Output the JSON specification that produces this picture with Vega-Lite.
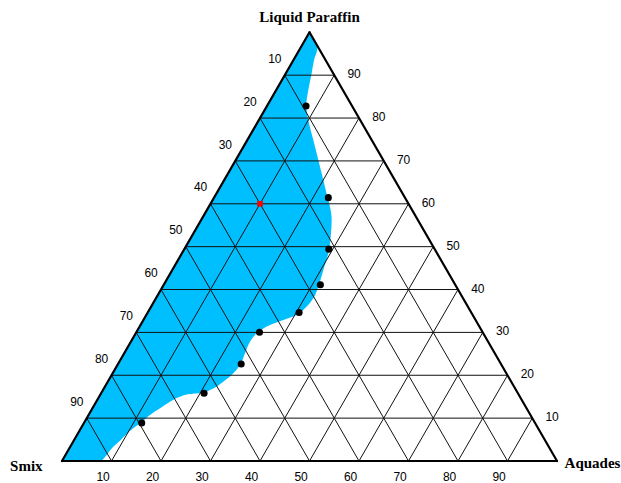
{
  "$schema": "https://vega.github.io/schema/vega-lite/v6.json",
  "width": 621,
  "height": 483,
  "autosize": {"type": "none"},
  "padding": 0,
  "background": "white",
  "config": {"view": {"stroke": null}},
  "datasets": {
    "region": [
      {"y": 0, "xl": 0, "xr": 8.0},
      {"y": 1.21, "xl": 0.699, "xr": 9.03},
      {"y": 2.83, "xl": 1.634, "xr": 10.3},
      {"y": 4.1, "xl": 2.367, "xr": 11.72},
      {"y": 5.45, "xl": 3.147, "xr": 13.07},
      {"y": 6.61, "xl": 3.816, "xr": 14.4},
      {"y": 7.62, "xl": 4.399, "xr": 15.76},
      {"y": 9.29, "xl": 5.364, "xr": 17.78},
      {"y": 10.65, "xl": 6.149, "xr": 19.8},
      {"y": 11.98, "xl": 6.917, "xr": 21.82},
      {"y": 12.99, "xl": 7.5, "xr": 23.84},
      {"y": 13.54, "xl": 7.817, "xr": 25.86},
      {"y": 13.8, "xl": 7.967, "xr": 28.55},
      {"y": 14.34, "xl": 8.279, "xr": 29.9},
      {"y": 16.02, "xl": 9.249, "xr": 32.59},
      {"y": 17.72, "xl": 10.231, "xr": 34.61},
      {"y": 19.39, "xl": 11.195, "xr": 35.96},
      {"y": 21.76, "xl": 12.563, "xr": 36.97},
      {"y": 24.1, "xl": 13.914, "xr": 37.98},
      {"y": 25.8, "xl": 14.896, "xr": 39.33},
      {"y": 27.47, "xl": 15.86, "xr": 42.02},
      {"y": 28.48, "xl": 16.443, "xr": 44.71},
      {"y": 29.49, "xl": 17.026, "xr": 47.41},
      {"y": 30.85, "xl": 17.811, "xr": 49.09},
      {"y": 32.87, "xl": 18.978, "xr": 50.77},
      {"y": 35.21, "xl": 20.328, "xr": 51.78},
      {"y": 38.59, "xl": 22.28, "xr": 52.79},
      {"y": 41.96, "xl": 24.226, "xr": 53.8},
      {"y": 45.31, "xl": 26.16, "xr": 54.28},
      {"y": 48.69, "xl": 28.111, "xr": 54.48},
      {"y": 51.37, "xl": 29.659, "xr": 54.14},
      {"y": 53.39, "xl": 30.825, "xr": 53.6},
      {"y": 56.77, "xl": 32.776, "xr": 52.79},
      {"y": 60.81, "xl": 35.109, "xr": 51.78},
      {"y": 64.85, "xl": 37.441, "xr": 50.77},
      {"y": 68.89, "xl": 39.774, "xr": 49.76},
      {"y": 71.92, "xl": 41.523, "xr": 49.35},
      {"y": 74.95, "xl": 43.273, "xr": 49.76},
      {"y": 78.32, "xl": 45.218, "xr": 50.44},
      {"y": 80.99, "xl": 46.76, "xr": 50.91},
      {"y": 83.37, "xl": 48.134, "xr": 51.58},
      {"y": 86.6, "xl": 50.0, "xr": 50.0}
    ],
    "grid": [
      {"x": 5, "y": 8.66, "x2": 95, "y2": 8.66},
      {"x": 10, "y": 17.321, "x2": 90, "y2": 17.321},
      {"x": 15, "y": 25.981, "x2": 85, "y2": 25.981},
      {"x": 20, "y": 34.641, "x2": 80, "y2": 34.641},
      {"x": 25, "y": 43.301, "x2": 75, "y2": 43.301},
      {"x": 30, "y": 51.962, "x2": 70, "y2": 51.962},
      {"x": 35, "y": 60.622, "x2": 65, "y2": 60.622},
      {"x": 40, "y": 69.282, "x2": 60, "y2": 69.282},
      {"x": 45, "y": 77.942, "x2": 55, "y2": 77.942},
      {"x": 10, "y": 0, "x2": 55, "y2": 77.942},
      {"x": 20, "y": 0, "x2": 60, "y2": 69.282},
      {"x": 30, "y": 0, "x2": 65, "y2": 60.622},
      {"x": 40, "y": 0, "x2": 70, "y2": 51.962},
      {"x": 50, "y": 0, "x2": 75, "y2": 43.301},
      {"x": 60, "y": 0, "x2": 80, "y2": 34.641},
      {"x": 70, "y": 0, "x2": 85, "y2": 25.981},
      {"x": 80, "y": 0, "x2": 90, "y2": 17.321},
      {"x": 90, "y": 0, "x2": 95, "y2": 8.66},
      {"x": 90, "y": 0, "x2": 45, "y2": 77.942},
      {"x": 80, "y": 0, "x2": 40, "y2": 69.282},
      {"x": 70, "y": 0, "x2": 35, "y2": 60.622},
      {"x": 60, "y": 0, "x2": 30, "y2": 51.962},
      {"x": 50, "y": 0, "x2": 25, "y2": 43.301},
      {"x": 40, "y": 0, "x2": 20, "y2": 34.641},
      {"x": 30, "y": 0, "x2": 15, "y2": 25.981},
      {"x": 20, "y": 0, "x2": 10, "y2": 17.321},
      {"x": 10, "y": 0, "x2": 5, "y2": 8.66}
    ],
    "edges": [
      {"x": 0, "y": 0, "x2": 100, "y2": 0},
      {"x": 0, "y": 0, "x2": 50, "y2": 86.603},
      {"x": 100, "y": 0, "x2": 50, "y2": 86.603}
    ],
    "dots": [
      {"x": 49.3, "y": 71.7},
      {"x": 53.8, "y": 53.2},
      {"x": 53.9, "y": 42.8},
      {"x": 52.2, "y": 35.6},
      {"x": 47.9, "y": 30.0},
      {"x": 39.9, "y": 26.0},
      {"x": 36.2, "y": 19.6},
      {"x": 28.7, "y": 13.7},
      {"x": 16.1, "y": 7.7}
    ],
    "red": [
      {"x": 40.0, "y": 51.96}
    ],
    "labels": [
      {"x": 43.0, "y": 81.24, "t": "10"},
      {"x": 38.0, "y": 72.58, "t": "20"},
      {"x": 33.0, "y": 63.92, "t": "30"},
      {"x": 28.0, "y": 55.26, "t": "40"},
      {"x": 23.0, "y": 46.6, "t": "50"},
      {"x": 18.0, "y": 37.94, "t": "60"},
      {"x": 13.0, "y": 29.28, "t": "70"},
      {"x": 8.0, "y": 20.62, "t": "80"},
      {"x": 3.0, "y": 11.96, "t": "90"},
      {"x": 8.3, "y": -3.25, "t": "10"},
      {"x": 18.3, "y": -3.25, "t": "20"},
      {"x": 28.3, "y": -3.25, "t": "30"},
      {"x": 38.3, "y": -3.25, "t": "40"},
      {"x": 48.3, "y": -3.25, "t": "50"},
      {"x": 58.3, "y": -3.25, "t": "60"},
      {"x": 68.3, "y": -3.25, "t": "70"},
      {"x": 78.3, "y": -3.25, "t": "80"},
      {"x": 88.3, "y": -3.25, "t": "90"},
      {"x": 59.0, "y": 78.14, "t": "90"},
      {"x": 64.0, "y": 69.48, "t": "80"},
      {"x": 69.0, "y": 60.82, "t": "70"},
      {"x": 74.0, "y": 52.16, "t": "60"},
      {"x": 79.0, "y": 43.5, "t": "50"},
      {"x": 84.0, "y": 34.84, "t": "40"},
      {"x": 89.0, "y": 26.18, "t": "30"},
      {"x": 94.0, "y": 17.52, "t": "20"},
      {"x": 99.0, "y": 8.86, "t": "10"}
    ],
    "titles": [
      {"x": 50.0, "y": 89.76, "t": "Liquid Paraffin"},
      {"x": -7.21, "y": -1.01, "t": "Smix"},
      {"x": 107.17, "y": -0.46, "t": "Aquades"}
    ]
  },
  "layer": [
    {
      "data": {"name": "region"},
      "mark": {"type": "area", "orient": "horizontal", "interpolate": "monotone", "color": "#00BFFF", "opacity": 1},
      "encoding": {
        "y": {"field": "y", "type": "quantitative", "scale": {"domain": [-4.444, 93.131], "nice": false, "zero": false}, "axis": null},
        "x": {"field": "xl", "type": "quantitative", "scale": {"domain": [-12.525, 112.929], "nice": false, "zero": false}, "axis": null},
        "x2": {"field": "xr"}
      }
    },
    {
      "data": {"name": "grid"},
      "mark": {"type": "rule", "color": "#111111", "strokeWidth": 1},
      "encoding": {
        "x": {"field": "x", "type": "quantitative"},
        "y": {"field": "y", "type": "quantitative"},
        "x2": {"field": "x2"},
        "y2": {"field": "y2"}
      }
    },
    {
      "data": {"name": "edges"},
      "mark": {"type": "rule", "color": "#000000", "strokeWidth": 2.2, "strokeCap": "round"},
      "encoding": {
        "x": {"field": "x", "type": "quantitative"},
        "y": {"field": "y", "type": "quantitative"},
        "x2": {"field": "x2"},
        "y2": {"field": "y2"}
      }
    },
    {
      "data": {"name": "dots"},
      "mark": {"type": "point", "filled": true, "color": "#000000", "size": 50, "opacity": 1},
      "encoding": {
        "x": {"field": "x", "type": "quantitative"},
        "y": {"field": "y", "type": "quantitative"}
      }
    },
    {
      "data": {"name": "red"},
      "mark": {"type": "square", "color": "#FF0000", "size": 32, "opacity": 1},
      "encoding": {
        "x": {"field": "x", "type": "quantitative"},
        "y": {"field": "y", "type": "quantitative"}
      }
    },
    {
      "data": {"name": "labels"},
      "mark": {"type": "text", "font": "Liberation Sans", "fontSize": 12, "color": "#000000", "align": "center", "baseline": "middle"},
      "encoding": {
        "x": {"field": "x", "type": "quantitative"},
        "y": {"field": "y", "type": "quantitative"},
        "text": {"field": "t"}
      }
    },
    {
      "data": {"name": "titles"},
      "mark": {"type": "text", "font": "Liberation Serif", "fontSize": 15, "fontWeight": "bold", "color": "#000000", "align": "center", "baseline": "middle"},
      "encoding": {
        "x": {"field": "x", "type": "quantitative"},
        "y": {"field": "y", "type": "quantitative"},
        "text": {"field": "t"}
      }
    }
  ]
}
